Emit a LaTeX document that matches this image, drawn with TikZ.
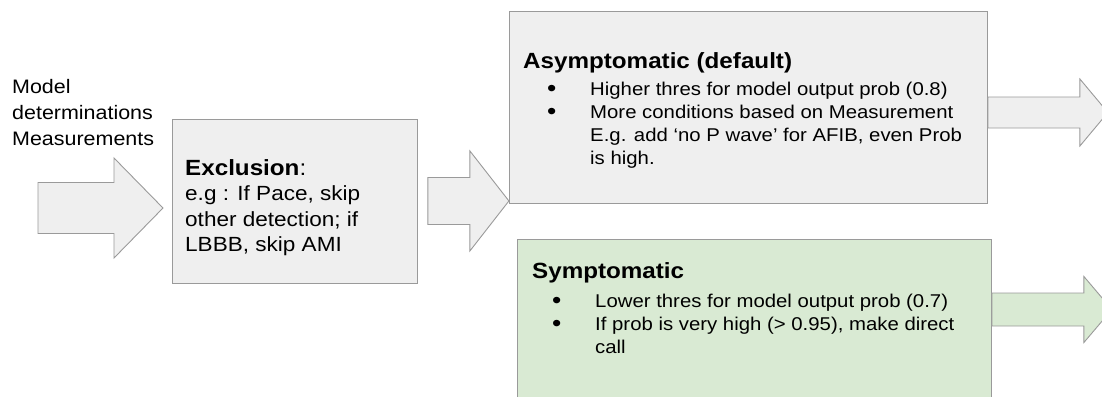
\documentclass[tikz,border=0pt]{standalone}
\usepackage{fontspec}
\setmainfont{Liberation Sans}[FakeStretch=1.1]
\usetikzlibrary{calc,positioning}

\definecolor{boxgray}{HTML}{EFEFEF}
\definecolor{boxgreen}{HTML}{D9EAD3}
\definecolor{linegray}{HTML}{9A9A9A}

% block arrow: style, start, shaft length, shaft half, head half, head length
\newcommand{\flecha}[6]{%
\draw[#1] ($(#2)+(0,-#4)$) -- ++(#3,0) -- ++(0,#4-#5) -- ++(#6,#5)
  -- ++(-#6,#5) -- ++(0,#4-#5) -- ++(-#3,0) -- cycle;}
\newcommand{\itm}[1]{\makebox[41pt][l]{\hspace*{-2pt}\smash{\raisebox{-1pt}{\fontsize{24}{0}\selectfont\textbullet}}}#1}
\newcommand{\cont}[1]{\hspace*{41pt}#1}

\begin{document}
\begin{tikzpicture}[x=1pt,y=-1pt]
\tikzstyle{box}=[draw=linegray, line width=0.9pt, fill=boxgray, inner sep=0, anchor=north west]
\tikzstyle{greenbox}=[box, fill=boxgreen]
\tikzstyle{arr}=[draw=linegray, line width=0.9pt, fill=boxgray]
\tikzstyle{greenarr}=[arr, fill=boxgreen]
\tikzstyle{txt}=[inner sep=0, anchor=north west, align=left, font=\fontsize{19.5}{26}\selectfont]
\tikzstyle{head}=[inner sep=0, anchor=north west, font=\fontsize{22}{26}\selectfont]
\tikzstyle{body}=[inner sep=0, anchor=north west, align=left, font=\fontsize{18.5}{23}\selectfont]

\useasboundingbox (0,0) rectangle (1102,396);

%%%%%%%%%%%%%%%%%%%%%%%%%%%%%%
%%%%%%%%%%%%%%%%%%%%%%%%%%%%%%
%%%%%
%%%%% ENTRADA
\coordinate (in_t) at (12,79);
\coordinate (in_s) at (38,208);

%%%%% CAJAS
\coordinate (excl) at (172,119);
\coordinate (asym) at (509,11);
\coordinate (symp) at (517,239);

%%%%% TEXTO ENTRADA
\node[txt] (in_t) at (in_t) {Model\\determinations\\Measurements};

%%%%%%%%%%%%%%%
%%%%% EXCLUSION
\node[box, minimum width=245, minimum height=164] (excl) at (excl) {};
\node[head, below right=40pt and 13pt of excl.north west, anchor=north west] (excl_h)
  {\bfseries Exclusion\mdseries:};
\node[txt, font=\fontsize{20.5}{25.5}\selectfont, below=10pt of excl_h.south west, anchor=north west] (excl_b)
  {e.g : If Pace, skip\\other detection; if\\LBBB, skip AMI};

%%%%%%%%%%%%%%%
%%%%% ASINTOMATICO
\node[box, minimum width=478, minimum height=192] (asym) at (asym) {};
\node[head, below right=41pt and 14pt of asym.north west, anchor=north west] (asym_h)
  {\bfseries Asymptomatic (default)};
\node[body, below right=9pt and 26pt of asym_h.south west, anchor=north west] (asym_b)
  {\itm{Higher thres for model output prob (0.8)}\\
   \itm{More conditions based on Measurement}\\
   \cont{E.g. add ‘no P wave’ for AFIB, even Prob}\\
   \cont{is high.}};

%%%%%%%%%%%%%%%
%%%%% SINTOMATICO
\node[greenbox, minimum width=474, minimum height=170] (symp) at (symp) {};
\node[head, below right=23pt and 15pt of symp.north west, anchor=north west] (symp_h)
  {\bfseries Symptomatic};
\node[body, below right=11pt and 22pt of symp_h.south west, anchor=north west] (symp_b)
  {\itm{Lower thres for model output prob (0.7)}\\
   \itm{If prob is very high (> 0.95), make direct}\\
   \cont{call}};

%%%%%%%%%%%%%%%
%%%%% FLECHAS
\flecha{arr}{in_s}{76}{25.5}{50}{49}
\flecha{arr}{$(excl.east)+(10,-0.5)$}{42}{23.5}{50}{39}
\flecha{arr}{$(asym.north east)+(0,101.5)$}{92}{15.5}{33.5}{28}
\flecha{greenarr}{$(symp.north east)+(0,70.5)$}{92}{16.5}{33}{28}

\end{tikzpicture}
\end{document}
